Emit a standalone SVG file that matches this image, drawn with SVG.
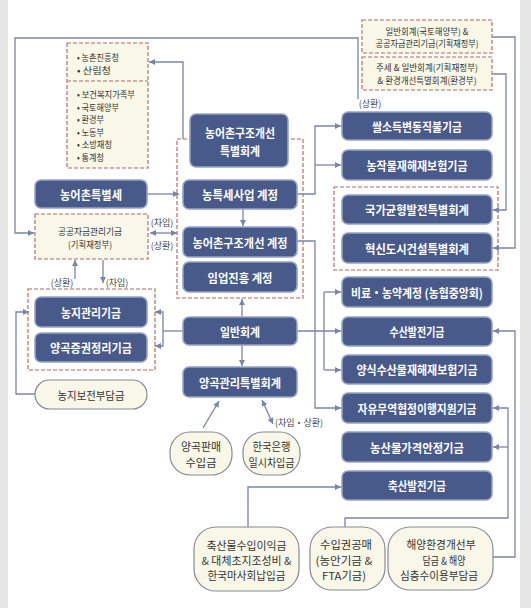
<svg xmlns="http://www.w3.org/2000/svg" width="531" height="608" viewBox="0 0 531 608">
<style>
text{font-family:"Noto Sans CJK KR","Noto Sans",sans-serif;dominant-baseline:central}
.nb{fill:#485a8a;stroke:#96a3c6;stroke-width:1.6}
.nt{font-size:12px;font-weight:bold;fill:#fff;text-anchor:middle}
.cb{fill:#f9f7e7;stroke:#c99a90;stroke-width:1.7;stroke-dasharray:4 2}
.gb{fill:none;stroke:#c99a90;stroke-width:1.7;stroke-dasharray:4 2}
.ov{fill:#f9f7e7;stroke:#868b96;stroke-width:1.2}
.ct{font-size:11px;fill:#333;text-anchor:middle}
.st{font-size:9px;fill:#333;text-anchor:middle}
.lt{font-size:9px;fill:#333}
.sm{font-size:9px;fill:#444;text-anchor:middle}
.ln{fill:none;stroke:#7a86a6;stroke-width:1.3}
</style>
<defs>
<marker id="ah" viewBox="0 0 10 10" refX="10" refY="5" markerWidth="8" markerHeight="6" markerUnits="userSpaceOnUse" orient="auto-start-reverse">
<path d="M0,0 L10,5 L0,10 z" fill="#7a86a6"/>
</marker>
</defs>
<rect width="531" height="608" fill="#fff"/>
<rect x="0" y="0" width="8" height="608" fill="#e6e6e6"/>
<rect x="520" y="0" width="11" height="608" fill="#e6e6e6"/>

<!-- group frames -->
<rect id="grp-mid" class="gb" x="177" y="139" width="126" height="159"/>
<rect id="grp-right" class="gb" x="334" y="187" width="164" height="83"/>
<rect id="grp-left" class="gb" x="28" y="289" width="127" height="81"/>

<g id="connectors">
<path class="ln" d="M358,99 V38 H15 V233 H34" marker-end="url(#ah)"/>
<path class="ln" d="M183,139 V62 H149" marker-end="url(#ah)"/>
<path class="ln" d="M147,194 H179" marker-end="url(#ah)"/>
<path class="ln" d="M243,209 V226" marker-end="url(#ah)"/>
<path class="ln" d="M150,233 H177" marker-start="url(#ah)" marker-end="url(#ah)"/>
<path class="ln" d="M75,279 V260" marker-end="url(#ah)"/>
<path class="ln" d="M103,260 V283" marker-end="url(#ah)"/>
<path class="ln" d="M183,331 H163"/>
<path class="ln" d="M163,331 V312 H155" marker-end="url(#ah)"/>
<path class="ln" d="M163,331 V346 H155" marker-end="url(#ah)"/>
<path class="ln" d="M35,394 H16 V312 H29" marker-end="url(#ah)"/>
<path class="ln" d="M242,317 V299" marker-end="url(#ah)"/>
<path class="ln" d="M242,345 V366" marker-end="url(#ah)"/>
<path class="ln" d="M203,428 L219,401" marker-end="url(#ah)"/>
<path class="ln" d="M273,424 L262,400" marker-start="url(#ah)" marker-end="url(#ah)"/>
<path class="ln" d="M297,194 H315 V126 H341" marker-end="url(#ah)"/>
<path class="ln" d="M315,165 H341" marker-end="url(#ah)"/>
<path class="ln" d="M297,241 H315 V408 H341" marker-end="url(#ah)"/>
<path class="ln" d="M297,331 H341" marker-end="url(#ah)"/>
<path class="ln" d="M324,292 V370"/>
<path class="ln" d="M324,292 H341" marker-end="url(#ah)"/>
<path class="ln" d="M324,370 H341" marker-end="url(#ah)"/>
<path class="ln" d="M492,37 H515 V248 H493" marker-end="url(#ah)"/>
<path class="ln" d="M492,74 H506 V210 H493" marker-end="url(#ah)"/>
<path class="ln" d="M493,557 H515 V331 H493" marker-end="url(#ah)"/>
<path class="ln" d="M345,527 V518 H508 V408 H493" marker-end="url(#ah)"/>
<path class="ln" d="M508,447 H493" marker-end="url(#ah)"/>
<path class="ln" d="M248,527 V487 H341" marker-end="url(#ah)"/>
</g>

<g id="labels">
<text class="sm" x="370" y="103">(상환)</text>
<text class="sm" x="162" y="222">(차입)</text>
<text class="sm" x="162" y="245">(상환)</text>
<text class="sm" x="62" y="282">(상환)</text>
<text class="sm" x="117" y="282">(차입)</text>
<text class="sm" x="299" y="422">(차입・상환)</text>
</g>

<g id="n-agencies">
<rect class="cb" x="67" y="43" width="81" height="125"/>
<line class="gb" x1="67" y1="81" x2="148" y2="81"/>
<text class="lt" x="77" y="57" textLength="42" lengthAdjust="spacingAndGlyphs">• 농촌진흥청</text>
<text class="lt" x="77" y="70" textLength="34" lengthAdjust="spacingAndGlyphs">• 산림청</text>
<text class="lt" x="77" y="94" textLength="58" lengthAdjust="spacingAndGlyphs">• 보건복지가족부</text>
<text class="lt" x="77" y="107" textLength="42" lengthAdjust="spacingAndGlyphs">• 국토해양부</text>
<text class="lt" x="77" y="119.5" textLength="27" lengthAdjust="spacingAndGlyphs">• 환경부</text>
<text class="lt" x="77" y="132" textLength="27" lengthAdjust="spacingAndGlyphs">• 노동부</text>
<text class="lt" x="77" y="144.5" textLength="35" lengthAdjust="spacingAndGlyphs">• 소방재청</text>
<text class="lt" x="77" y="157" textLength="27" lengthAdjust="spacingAndGlyphs">• 통계청</text>
</g>

<g id="n-src1">
<rect class="cb" x="362" y="20" width="130" height="33"/>
<text class="st" x="427" y="31" textLength="83" lengthAdjust="spacingAndGlyphs">일반회계(국토해양부) &amp;</text>
<text class="st" x="427" y="43.5" textLength="103" lengthAdjust="spacingAndGlyphs">공공자금관리기금(기획재정부)</text>
</g>
<g id="n-src2">
<rect class="cb" x="362" y="57" width="130" height="33"/>
<text class="st" x="427" y="67.5" textLength="102" lengthAdjust="spacingAndGlyphs">주세 &amp; 일반회계(기획재정부)</text>
<text class="st" x="427" y="80" textLength="99" lengthAdjust="spacingAndGlyphs">&amp; 환경개선특별회계(환경부)</text>
</g>
<g id="n-pubfund">
<rect class="cb" x="35" y="214" width="113" height="45"/>
<text class="st" x="90" y="231" textLength="64" lengthAdjust="spacingAndGlyphs">공공자금관리기금</text>
<text class="st" x="90" y="244" textLength="44" lengthAdjust="spacingAndGlyphs">(기획재정부)</text>
</g>

<g id="n-special"><rect class="nb" x="190" y="114" width="98" height="53" rx="6"/>
<text class="nt" x="240" y="132" textLength="70" lengthAdjust="spacingAndGlyphs">농어촌구조개선</text>
<text class="nt" x="240" y="150" textLength="40" lengthAdjust="spacingAndGlyphs">특별회계</text></g>
<g id="n-tax-acct"><rect class="nb" x="183" y="180" width="114" height="29" rx="6"/>
<text class="nt" x="240" y="194.5" textLength="76" lengthAdjust="spacingAndGlyphs">농특세사업 계정</text></g>
<g id="n-struct-acct"><rect class="nb" x="183" y="227" width="114" height="30" rx="6"/>
<text class="nt" x="240" y="242" textLength="95" lengthAdjust="spacingAndGlyphs">농어촌구조개선 계정</text></g>
<g id="n-forest-acct"><rect class="nb" x="183" y="262" width="114" height="30" rx="6"/>
<text class="nt" x="240" y="277" textLength="65" lengthAdjust="spacingAndGlyphs">임업진흥 계정</text></g>
<g id="n-general"><rect class="nb" x="183" y="317" width="114" height="28" rx="6"/>
<text class="nt" x="240" y="331" textLength="40" lengthAdjust="spacingAndGlyphs">일반회계</text></g>
<g id="n-grain-acct"><rect class="nb" x="183" y="367" width="114" height="30" rx="6"/>
<text class="nt" x="240" y="382" textLength="82" lengthAdjust="spacingAndGlyphs">양곡관리특별회계</text></g>

<g id="n-ruraltax"><rect class="nb" x="35" y="180" width="112" height="28" rx="6"/>
<text class="nt" x="91" y="194" textLength="62" lengthAdjust="spacingAndGlyphs">농어촌특별세</text></g>
<g id="n-farmland"><rect class="nb" x="35" y="297" width="112" height="30" rx="6"/>
<text class="nt" x="91" y="312" textLength="60" lengthAdjust="spacingAndGlyphs">농지관리기금</text></g>
<g id="n-grainbond"><rect class="nb" x="35" y="333" width="112" height="29" rx="6"/>
<text class="nt" x="91" y="347.5" textLength="82" lengthAdjust="spacingAndGlyphs">양곡증권정리기금</text></g>

<g id="n-rice"><rect class="nb" x="342" y="112" width="150" height="28" rx="6"/>
<text class="nt" x="417" y="126" textLength="90" lengthAdjust="spacingAndGlyphs">쌀소득변동직불기금</text></g>
<g id="n-cropins"><rect class="nb" x="342" y="150" width="150" height="30" rx="6"/>
<text class="nt" x="417" y="165" textLength="101" lengthAdjust="spacingAndGlyphs">농작물재해재보험기금</text></g>
<g id="n-balance"><rect class="nb" x="342" y="195" width="150" height="29" rx="6"/>
<text class="nt" x="417" y="209.5" textLength="104" lengthAdjust="spacingAndGlyphs">국가균형발전특별회계</text></g>
<g id="n-innov"><rect class="nb" x="342" y="233" width="150" height="30" rx="6"/>
<text class="nt" x="417" y="248" textLength="104" lengthAdjust="spacingAndGlyphs">혁신도시건설특별회계</text></g>
<g id="n-fert"><rect class="nb" x="342" y="277" width="150" height="30" rx="6"/>
<text class="nt" x="417" y="292" textLength="132" lengthAdjust="spacingAndGlyphs">비료・농약계정 (농협중앙회)</text></g>
<g id="n-fish"><rect class="nb" x="342" y="317" width="150" height="29" rx="6"/>
<text class="nt" x="417" y="331.5" textLength="55" lengthAdjust="spacingAndGlyphs">수산발전기금</text></g>
<g id="n-aqua"><rect class="nb" x="342" y="355" width="150" height="29" rx="6"/>
<text class="nt" x="417" y="369.5" textLength="121" lengthAdjust="spacingAndGlyphs">양식수산물재해재보험기금</text></g>
<g id="n-fta"><rect class="nb" x="342" y="393" width="150" height="30" rx="6"/>
<text class="nt" x="417" y="408" textLength="119" lengthAdjust="spacingAndGlyphs">자유무역협정이행지원기금</text></g>
<g id="n-price"><rect class="nb" x="342" y="432" width="150" height="30" rx="6"/>
<text class="nt" x="417" y="447" textLength="94" lengthAdjust="spacingAndGlyphs">농산물가격안정기금</text></g>
<g id="n-livestock"><rect class="nb" x="342" y="471" width="150" height="29" rx="6"/>
<text class="nt" x="417" y="485.5" textLength="58" lengthAdjust="spacingAndGlyphs">축산발전기금</text></g>

<g id="n-farmcharge"><rect class="ov" x="35" y="380" width="112" height="29" rx="14.5"/>
<text class="ct" x="91" y="394.5" textLength="67" lengthAdjust="spacingAndGlyphs">농지보전부담금</text></g>
<g id="n-grainsale"><rect class="ov" x="170" y="432" width="62" height="43" rx="20"/>
<text class="ct" x="201" y="446" textLength="40" lengthAdjust="spacingAndGlyphs">양곡판매</text>
<text class="ct" x="201" y="462" textLength="31" lengthAdjust="spacingAndGlyphs">수입금</text></g>
<g id="n-bok"><rect class="ov" x="243" y="432" width="57" height="43" rx="20"/>
<text class="ct" x="271.5" y="446" textLength="38" lengthAdjust="spacingAndGlyphs">한국은행</text>
<text class="ct" x="271.5" y="462" textLength="46" lengthAdjust="spacingAndGlyphs">일시차입금</text></g>
<g id="n-livesrc"><rect class="ov" x="194" y="527" width="105" height="64" rx="22"/>
<text class="ct" x="246.5" y="545" textLength="80" lengthAdjust="spacingAndGlyphs">축산물수입이익금</text>
<text class="ct" x="246.5" y="560" textLength="90" lengthAdjust="spacingAndGlyphs">&amp; 대체초지조성비 &amp;</text>
<text class="ct" x="246.5" y="575" textLength="78" lengthAdjust="spacingAndGlyphs">한국마사회납입금</text></g>
<g id="n-auction"><rect class="ov" x="310" y="527" width="75" height="63" rx="22"/>
<text class="ct" x="346" y="544" textLength="52" lengthAdjust="spacingAndGlyphs">수입권공매</text>
<text class="ct" x="344" y="559.5" textLength="57" lengthAdjust="spacingAndGlyphs">(농안기금 &amp;</text>
<text class="ct" x="344" y="575" textLength="44" lengthAdjust="spacingAndGlyphs">FTA기금)</text></g>
<g id="n-marine"><rect class="ov" x="388" y="527" width="105" height="63" rx="22"/>
<text class="ct" x="441" y="544" textLength="69" lengthAdjust="spacingAndGlyphs">해양환경개선부</text>
<text class="ct" x="444" y="559.5" textLength="43" lengthAdjust="spacingAndGlyphs">담금 &amp; 해양</text>
<text class="ct" x="439" y="575" textLength="78" lengthAdjust="spacingAndGlyphs">심층수이용부담금</text></g>
</svg>
